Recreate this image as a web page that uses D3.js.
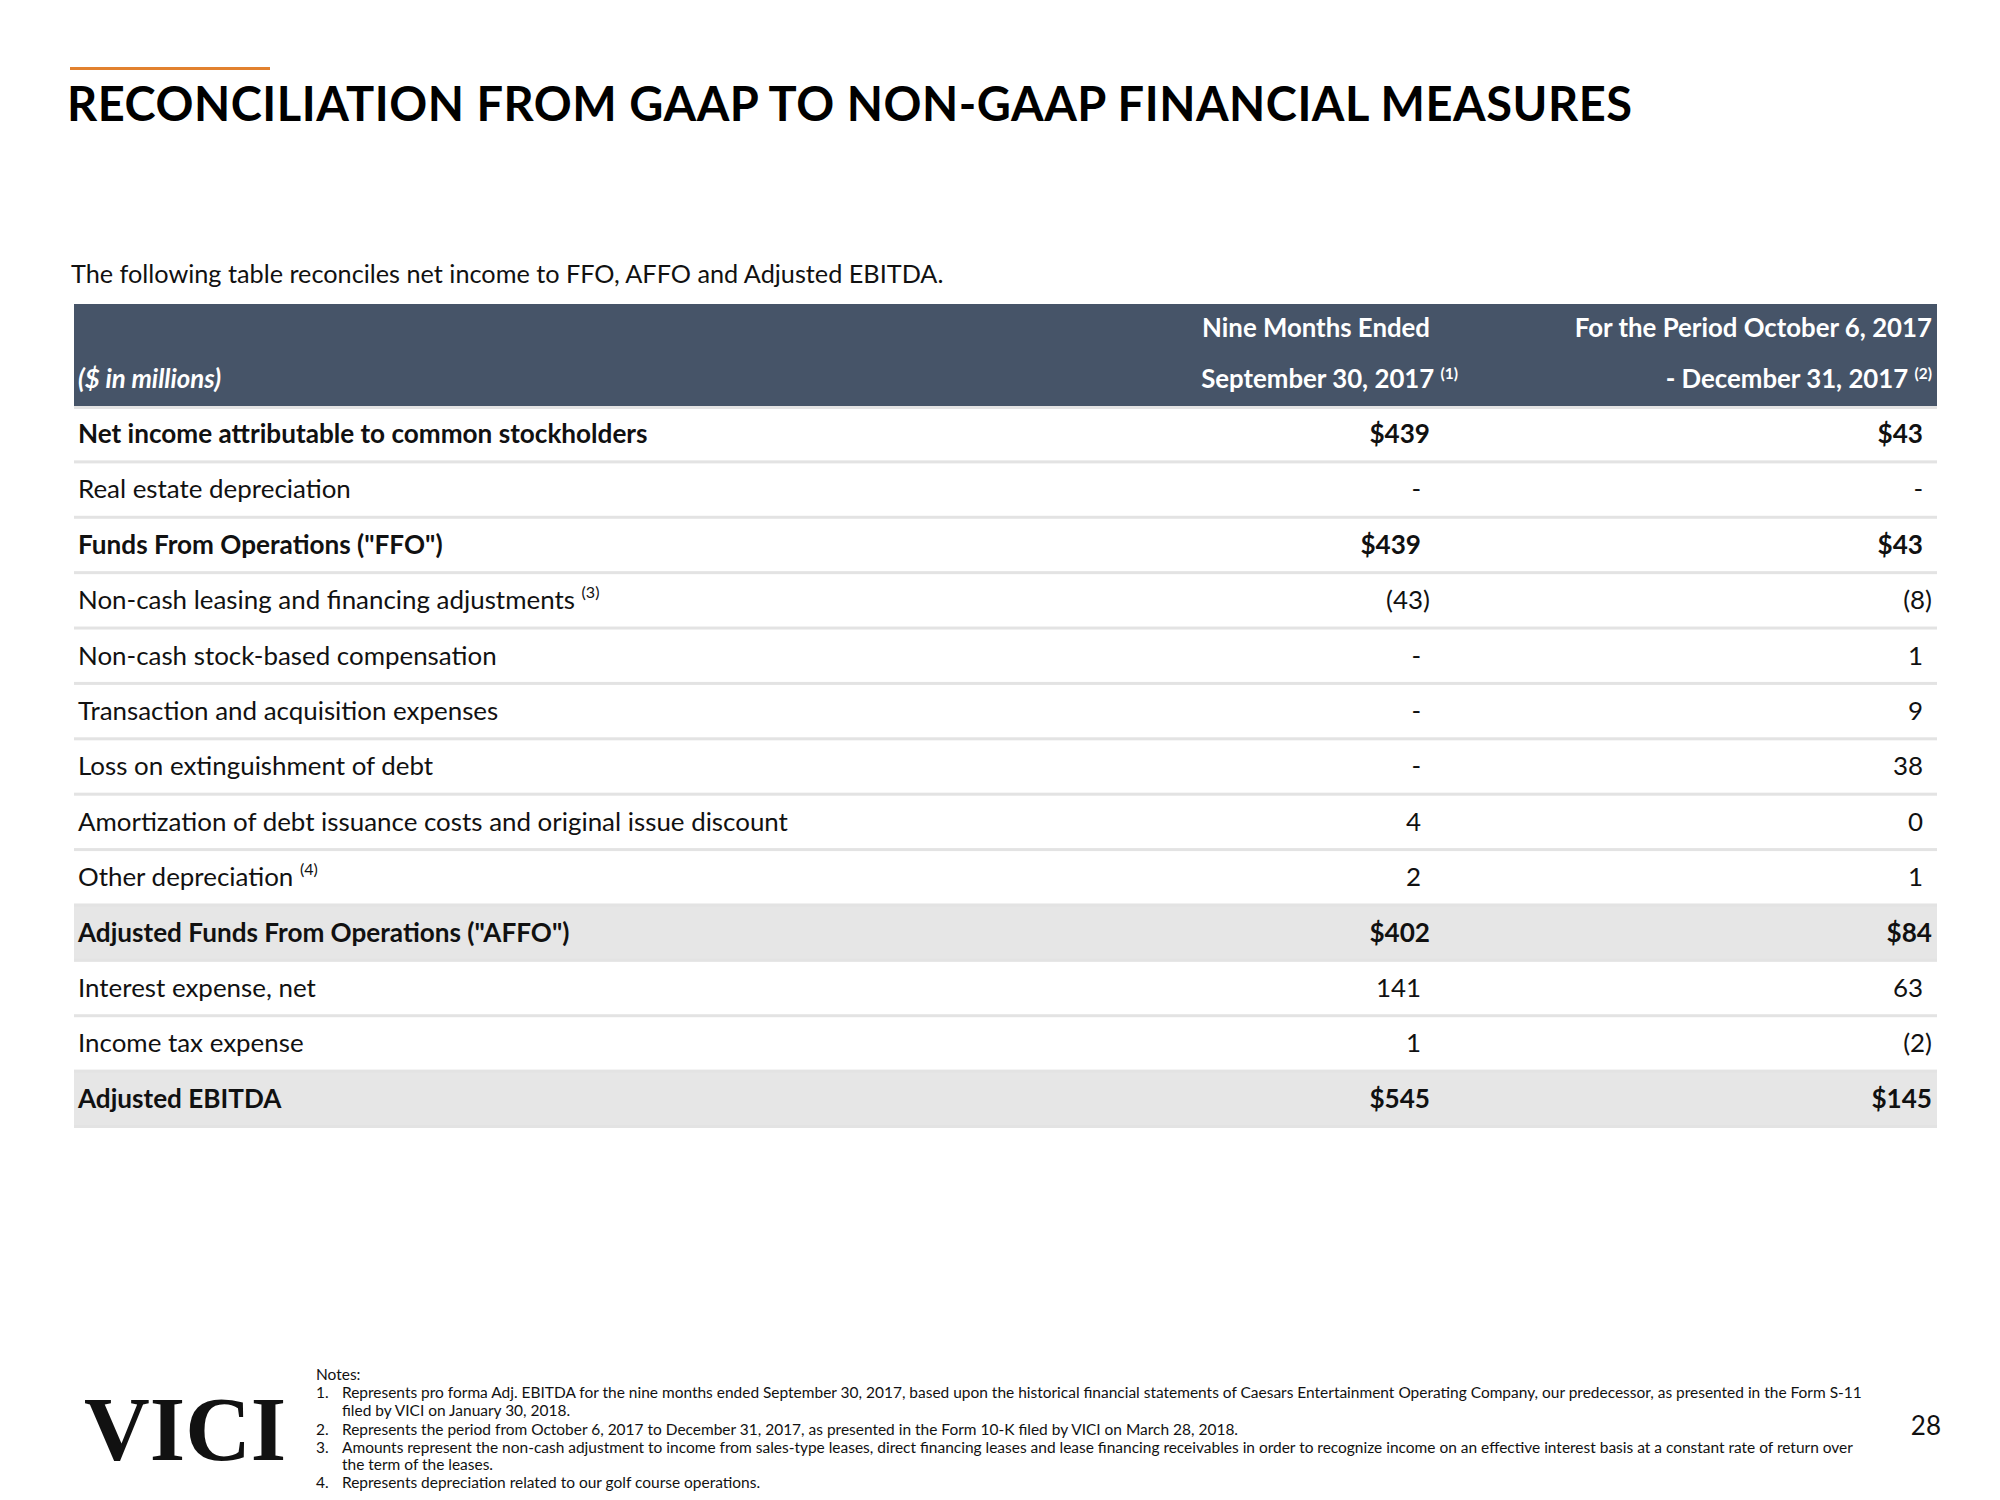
<!DOCTYPE html>
<html>
<head>
<meta charset="utf-8">
<script src="https://cdn.jsdelivr.net/npm/d3@7"></script>
<style>
  html, body { margin: 0; padding: 0; background: #fff; }
  svg { display: block; }
</style>
</head>
<body>
<svg id="chart" width="2000" height="1500"></svg>
<script>
// ---------- DATA ----------
const titleText = "RECONCILIATION FROM GAAP TO NON-GAAP FINANCIAL MEASURES";
const subtitleText = "The following table reconciles net income to FFO, AFFO and Adjusted EBITDA.";
const unitLabel = "($ in millions)";
const colHeaders = [
  { line1: "Nine Months Ended", line2: "September 30, 2017", note: "(1)" },
  { line1: "For the Period October 6, 2017", line2: "- December 31, 2017", note: "(2)" }
];
const rowLabels = [
  "Net income attributable to common stockholders",
  "Real estate depreciation",
  "Funds From Operations (\"FFO\")",
  "Non-cash leasing and financing adjustments",
  "Non-cash stock-based compensation",
  "Transaction and acquisition expenses",
  "Loss on extinguishment of debt",
  "Amortization of debt issuance costs and original issue discount",
  "Other depreciation",
  "Adjusted Funds From Operations (\"AFFO\")",
  "Interest expense, net",
  "Income tax expense",
  "Adjusted EBITDA"
];
const labelNotes = ["", "", "", "(3)", "", "", "", "", "(4)", "", "", "", ""];
const nineMonths = ["$439", "-", "$439", "(43)", "-", "-", "-", "4", "2", "$402", "141", "1", "$545"];
const periodOct = ["$43", "-", "$43", "(8)", "1", "9", "38", "0", "1", "$84", "63", "(2)", "$145"];
const boldRows = ["Net income attributable to common stockholders", "Funds From Operations (\"FFO\")",
                  "Adjusted Funds From Operations (\"AFFO\")", "Adjusted EBITDA"];
const shadedRows = ["Adjusted Funds From Operations (\"AFFO\")", "Adjusted EBITDA"];
const notesTitle = "Notes:";
const notes = [
  ["Represents pro forma Adj. EBITDA for the nine months ended September 30, 2017, based upon the historical financial statements of Caesars Entertainment Operating Company, our predecessor, as presented in the Form S-11",
   "filed by VICI on January 30, 2018."],
  ["Represents the period from October 6, 2017 to December 31, 2017, as presented in the Form 10-K filed by VICI on March 28, 2018."],
  ["Amounts represent the non-cash adjustment to income from sales-type leases, direct financing leases and lease financing receivables in order to recognize income on an effective interest basis at a constant rate of return over",
   "the term of the leases."],
  ["Represents depreciation related to our golf course operations."]
];
const logoText = "VICI";
const pageNumber = "28";

// ---------- STYLE / LAYOUT ----------
const FONT = "Lato, 'Open Sans', sans-serif";
const HEADER_FILL = "#465468";
const SHADE_FILL = "#e6e6e6";
const RULE_FILL = "#e3e3e3";
const ORANGE = "#e2812f";
const TEXT = "#111";

const svg = d3.select("#chart");
svg.append("rect").attr("width", 2000).attr("height", 1500).attr("fill", "#fff");

function measure(sample, weight, style, size) {
  const t = svg.append("text").attr("font-family", FONT).attr("font-size", size)
    .attr("font-weight", weight).attr("font-style", style).text(sample);
  const w = t.node().getComputedTextLength();
  t.remove();
  return w;
}
// calibrate a font size so a sample string reaches a target width
function calibrate(sample, weight, style, target) {
  return 100 * target / measure(sample, weight, style, 100);
}
const bodySize = calibrate("Real estate depreciation", 400, "normal", 273);
const boldSize = calibrate("Net income attributable to common stockholders", 700, "normal", 570);
const headSize = calibrate("Nine Months Ended", 700, "normal", 228);
const subSize = calibrate(subtitleText, 400, "normal", 873);
const noteSize = calibrate(notes[0][0], 400, "normal", 1521);

// ---------- TITLE ----------
svg.append("rect").attr("x", 70).attr("y", 67).attr("width", 200).attr("height", 3).attr("fill", ORANGE);
const TITLE_SIZE = 47, TITLE_W = 1565;
const natural = measure(titleText, 700, "normal", TITLE_SIZE);
svg.append("text")
  .attr("x", 67).attr("y", 121)
  .attr("font-family", FONT).attr("font-weight", 700).attr("font-size", TITLE_SIZE)
  .attr("fill", "#000")
  .attr("textLength", TITLE_W)
  .attr("lengthAdjust", natural <= TITLE_W ? "spacing" : "spacingAndGlyphs")
  .text(titleText);

svg.append("text").attr("x", 71).attr("y", 283)
  .attr("font-family", FONT).attr("font-size", subSize).attr("fill", TEXT).text(subtitleText);

// ---------- TABLE ----------
const tableLeft = 74, tableRight = 1937;
const headerTop = 304, headerBottom = 406, tableBottom = 1126;
const y = d3.scaleBand().domain(rowLabels).range([headerBottom, tableBottom]).paddingInner(0).paddingOuter(0);
const bw = y.bandwidth();
const colRight = d3.scaleOrdinal().domain(["nine", "period"]).range([1430, 1932]);
const padRight = d3.scaleOrdinal().domain(["nine", "period"]).range([1421, 1923]);
const labelX = 78;

svg.append("rect").attr("x", tableLeft).attr("y", headerTop)
  .attr("width", tableRight - tableLeft).attr("height", headerBottom - headerTop).attr("fill", HEADER_FILL);

// header texts
const hdr = svg.append("g").attr("font-family", FONT).attr("font-weight", 700)
  .attr("font-size", headSize).attr("fill", "#fff");
hdr.append("text").attr("x", labelX).attr("y", 388).attr("font-style", "italic").text(unitLabel);
const keys = ["nine", "period"];
colHeaders.forEach((h, i) => {
  const k = keys[i];
  hdr.append("text").attr("x", colRight(k)).attr("y", 337)
    .attr("text-anchor", "end").text(h.line1);
  const t2 = hdr.append("text").attr("y", 388).attr("text-anchor", "end");
  t2.append("tspan").text(h.line2 + " ");
  t2.append("tspan").attr("font-size", headSize * 0.6).attr("dy", -9).text(h.note);
  t2.attr("x", i === 0 ? 1458 : colRight(k));
});

// shaded rows
svg.append("g").selectAll("rect").data(shadedRows).join("rect")
  .attr("x", tableLeft).attr("width", tableRight - tableLeft)
  .attr("y", d => y(d)).attr("height", bw).attr("fill", SHADE_FILL);

// rule lines
svg.append("rect").attr("x", tableLeft).attr("y", headerBottom).attr("width", tableRight - tableLeft)
  .attr("height", 3).attr("fill", RULE_FILL);
svg.append("g").selectAll("rect").data(rowLabels).join("rect")
  .attr("x", tableLeft).attr("width", tableRight - tableLeft)
  .attr("y", d => y(d) + bw - 1).attr("height", 3).attr("fill", RULE_FILL);

// row labels and values
const rows = svg.append("g").attr("font-family", FONT).attr("fill", TEXT);
rowLabels.forEach((lab, i) => {
  const bold = boldRows.includes(lab);
  const size = bold ? boldSize : bodySize;
  const cy = y(lab) + bw / 2;
  const t = rows.append("text").attr("x", labelX).attr("y", cy + size * 0.36)
    .attr("font-size", size).attr("font-weight", bold ? 700 : 400);
  t.append("tspan").text(lab + (labelNotes[i] ? " " : ""));
  if (labelNotes[i]) {
    t.append("tspan").attr("font-size", size * 0.62).attr("dy", -size * 0.42).text(labelNotes[i]);
  }
  [["nine", nineMonths[i]], ["period", periodOct[i]]].forEach(([k, v]) => {
    const shaded = shadedRows.includes(lab);
    const paren = v.endsWith(")");
    const firstBold = (i === 0 && k === "nine");
    const x = (paren || shaded || firstBold) ? colRight(k) : padRight(k);
    rows.append("text").attr("x", x).attr("y", cy + size * 0.36)
      .attr("text-anchor", "end").attr("font-size", size).attr("font-weight", bold ? 700 : 400)
      .text(v);
  });
});

// ---------- FOOTER ----------
svg.append("text").attr("x", 84).attr("y", 1460)
  .attr("font-family", "'Liberation Serif', 'DejaVu Serif', serif").attr("font-weight", 700)
  .attr("font-size", 91).attr("fill", "#111").text(logoText);

const ng = svg.append("g").attr("font-family", FONT).attr("font-size", noteSize).attr("fill", TEXT);
const lineY = [1375, 1393, 1411, 1430, 1448, 1465, 1483];
let li = 0;
ng.append("text").attr("x", 316).attr("y", lineY[li++] + noteSize * 0.35).text(notesTitle);
notes.forEach((n, i) => {
  n.forEach((line, j) => {
    const yy = lineY[li++] + noteSize * 0.35;
    if (j === 0) ng.append("text").attr("x", 316).attr("y", yy).text((i + 1) + ".");
    ng.append("text").attr("x", 342).attr("y", yy).text(line);
  });
});

svg.append("text").attr("x", 1941).attr("y", 1435).attr("text-anchor", "end")
  .attr("font-family", FONT).attr("font-size", 26).attr("fill", TEXT).text(pageNumber);
</script>
</body>
</html>
